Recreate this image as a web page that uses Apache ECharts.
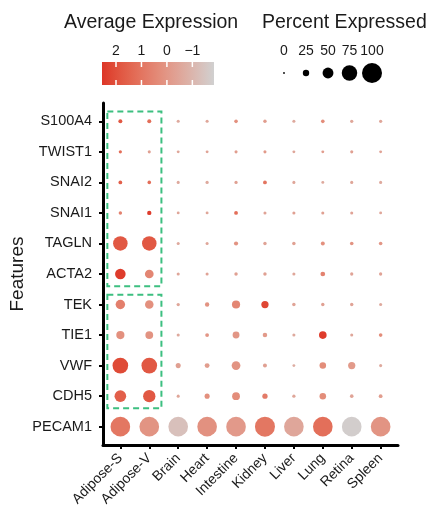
<!DOCTYPE html>
<html>
<head>
<meta charset="utf-8">
<script src="https://cdn.jsdelivr.net/npm/echarts@6/dist/echarts.min.js"></script>
<style>
  html, body { margin: 0; background: #fff; }
  #chart { width: 430px; height: 515px; }
</style>
</head>
<body>
<div id="chart"></div>
<script>
// 数据
const genes = ['S100A4', 'TWIST1', 'SNAI2', 'SNAI1', 'TAGLN', 'ACTA2', 'TEK', 'TIE1', 'VWF', 'CDH5', 'PECAM1'];
const tissues = ['Adipose-S', 'Adipose-V', 'Brain', 'Heart', 'Intestine', 'Kidney', 'Liver', 'Lung', 'Retina', 'Spleen'];

// percent expressed, one row per gene
const pctRows = [
  [12, 12, 7, 7, 10, 9, 7, 10, 8, 8],
  [8, 7, 6, 6, 7, 7, 6, 6, 7, 6],
  [11, 10, 7, 8, 8, 11, 7, 6, 7, 7],
  [9, 14, 6, 6, 11, 7, 7, 7, 7, 6],
  [70, 70, 7, 7, 13, 9, 9, 12, 10, 10],
  [48, 38, 7, 7, 9, 9, 7, 16, 8, 8],
  [42, 37, 8, 14, 35, 30, 9, 9, 9, 7],
  [35, 33, 7, 11, 28, 15, 7, 32, 7, 10],
  [76, 76, 18, 17, 38, 12, 6, 26, 30, 7],
  [54, 58, 7, 18, 33, 19, 8, 26, 10, 11],
  [98, 98, 98, 98, 98, 100, 98, 98, 98, 98]
];

// average expression (scaled)
const exprRows = [
  [1.8, 1.2, -0.6, -0.5, 0.2, -0.2, -0.6, 0.3, -0.5, -0.5],
  [1.2, -0.3, -0.5, -0.4, -0.2, -0.1, -0.5, -0.2, -0.3, -0.4],
  [1.6, 1.2, -0.6, -0.6, -0.3, 1.0, -0.5, -0.6, -0.5, -0.6],
  [0.6, 2.4, -0.5, -0.5, 1.2, -0.4, -0.3, -0.3, -0.4, -0.5],
  [1.8, 1.8, -0.6, -0.5, 0.1, -0.4, -0.3, 0.2, 0.1, 0.0],
  [2.4, 0.5, -0.5, -0.4, -0.3, -0.3, -0.5, 0.6, -0.4, -0.4],
  [0.7, 0.2, -0.5, 0.1, 0.5, 2.2, -0.4, -0.3, -0.4, -0.6],
  [0.2, 0.1, -0.6, 0.0, 0.0, -0.1, -0.6, 2.4, -0.5, 0.3],
  [2.1, 1.8, -0.3, -0.2, 0.1, -0.3, -0.7, 0.3, -0.1, -0.6],
  [1.6, 1.8, -0.5, 0.2, 0.3, 0.8, -0.5, 0.3, -0.4, -0.2],
  [0.94, 0.09, -1.34, 0.16, -0.09, 0.94, -0.52, 1.16, -1.75, 0.09]
];

// legend ticks
const exprTicks = [2, 1, 0, -1];
const pctTicks = [0, 25, 50, 75, 100];
const exprMin = -1.85, exprMax = 2.55;

// 框选的区域 (tissue index range, gene index range)
const boxes = [
  { cols: [0, 1], rows: [0, 5] },
  { cols: [0, 1], rows: [6, 9] }
];

const lowColor = '#d0d0d0';
const highColor = '#dd3527';
const font = 'Liberation Sans, Arial, sans-serif';

// Lab 插值，模仿 ggplot 的渐变
function hexToRgb(h) {
  const n = parseInt(h.slice(1), 16);
  return [(n >> 16) & 255, (n >> 8) & 255, n & 255];
}
function toLin(c) { c /= 255; return c <= 0.04045 ? c / 12.92 : Math.pow((c + 0.055) / 1.055, 2.4); }
function fromLin(c) {
  c = c <= 0.0031308 ? 12.92 * c : 1.055 * Math.pow(c, 1 / 2.4) - 0.055;
  return Math.max(0, Math.min(255, Math.round(c * 255)));
}
function rgbToLab(rgb) {
  const [r, g, b] = rgb.map(toLin);
  const x = (0.4124 * r + 0.3576 * g + 0.1805 * b) / 0.95047;
  const y = 0.2126 * r + 0.7152 * g + 0.0722 * b;
  const z = (0.0193 * r + 0.1192 * g + 0.9505 * b) / 1.08883;
  const f = t => t > 0.008856 ? Math.cbrt(t) : 7.787 * t + 16 / 116;
  const fx = f(x), fy = f(y), fz = f(z);
  return [116 * fy - 16, 500 * (fx - fy), 200 * (fy - fz)];
}
function labToHex(lab) {
  const fy = (lab[0] + 16) / 116, fx = fy + lab[1] / 500, fz = fy - lab[2] / 200;
  const g = t => t * t * t > 0.008856 ? t * t * t : (t - 16 / 116) / 7.787;
  const x = g(fx) * 0.95047, y = g(fy), z = g(fz) * 1.08883;
  const r = 3.2406 * x - 1.5372 * y - 0.4986 * z;
  const gg = -0.9689 * x + 1.8758 * y + 0.0415 * z;
  const b = 0.0557 * x - 0.2040 * y + 1.0570 * z;
  return '#' + [r, gg, b].map(fromLin).map(v => v.toString(16).padStart(2, '0')).join('');
}
const labLo = rgbToLab(hexToRgb(lowColor));
const labHi = rgbToLab(hexToRgb(highColor));
const nStops = 12;
const gradColors = [];
for (let i = 0; i <= nStops; i++) {
  const t = i / nStops;
  gradColors.push(labToHex(labLo.map((v, k) => v + (labHi[k] - v) * t)));
}

const sizeOf = p => 1.8 + p * 0.182;

// 散点数据
const points = [];
genes.forEach((g, i) => {
  tissues.forEach((t, j) => {
    points.push([j + 1, genes.length - i, exprRows[i][j], pctRows[i][j]]);
  });
});

const boxAreas = boxes.map(b => [
  { coord: [b.cols[0] + 1 - 0.45, genes.length - b.rows[0] + 0.32] },
  { coord: [b.cols[1] + 1 + 0.42, genes.length - b.rows[1] - 0.4] }
]);

// 图例位置
const barLeft = 102, barTop = 62, barW = 112, barH = 23;
const exprX = v => barLeft + (exprMax - v) / (exprMax - exprMin) * barW;
const pctX = [284, 306, 328, 349.5, 372];

const graphics = [
  { type: 'text', left: 64, top: 13, style: { text: 'Average Expression', font: '19.5px ' + font, fill: '#1a1a1a' } },
  { type: 'text', left: 262, top: 13, style: { text: 'Percent Expressed', font: '19.5px ' + font, fill: '#1a1a1a' } },
  {
    type: 'rect', shape: { x: barLeft, y: barTop, width: barW, height: barH },
    style: {
      fill: new echarts.graphic.LinearGradient(0, 0, 1, 0,
        gradColors.slice().reverse().map((c, i) => ({ offset: i / nStops, color: c })))
    }
  }
];
exprTicks.forEach(v => {
  const x = exprX(v);
  graphics.push({ type: 'line', shape: { x1: x, y1: barTop, x2: x, y2: barTop + 5 }, style: { stroke: '#fff', lineWidth: 1.5 } });
  graphics.push({ type: 'line', shape: { x1: x, y1: barTop + barH - 5, x2: x, y2: barTop + barH }, style: { stroke: '#fff', lineWidth: 1.5 } });
  graphics.push({
    type: 'text', x: x, y: 51,
    style: { text: v < 0 ? '\u2212' + Math.abs(v) : String(v), font: '14px ' + font, fill: '#1a1a1a', align: 'center', verticalAlign: 'middle' }
  });
});
pctTicks.forEach((p, i) => {
  graphics.push({ type: 'circle', shape: { cx: pctX[i], cy: 73, r: sizeOf(p) / 2 }, style: { fill: '#000' } });
  graphics.push({
    type: 'text', x: pctX[i], y: 51,
    style: { text: String(p), font: '14px ' + font, fill: '#1a1a1a', align: 'center', verticalAlign: 'middle' }
  });
});

const chart = echarts.init(document.getElementById('chart'));
const option = {
  animation: false,
  grid: { left: 103, right: 32, top: 103, bottom: 70, outerBoundsMode: 'none', containLabel: false },
  xAxis: {
    type: 'value', min: 0.4, max: 10.6,
    splitLine: { show: false },
    axisLine: { show: true, onZero: false, lineStyle: { color: '#000', width: 3 } },
    axisTick: { show: true, length: 4, lineStyle: { color: '#000', width: 2 }, customValues: tissues.map((t, i) => i + 1) },
    axisLabel: {
      customValues: tissues.map((t, i) => i + 1),
      formatter: v => tissues[Math.round(v) - 1],
      rotate: 45, fontSize: 14, color: '#1a1a1a', fontFamily: font, margin: 11
    }
  },
  yAxis: {
    type: 'value', min: 0.4, max: genes.length + 0.6,
    name: 'Features', nameLocation: 'middle', nameGap: 76, nameRotate: 90, nameMoveOverlap: false,
    nameTextStyle: { fontSize: 19, color: '#1a1a1a', fontFamily: font },
    splitLine: { show: false },
    axisLine: { show: true, onZero: false, lineStyle: { color: '#000', width: 3 } },
    axisTick: { show: true, length: 4, lineStyle: { color: '#000', width: 2 }, customValues: genes.map((g, i) => i + 1) },
    axisLabel: {
      customValues: genes.map((g, i) => i + 1),
      formatter: v => genes[genes.length - Math.round(v)],
      fontSize: 14.5, color: '#1a1a1a', fontFamily: font, margin: 11
    }
  },
  visualMap: {
    show: false, seriesIndex: 0, dimension: 2,
    min: exprMin, max: exprMax,
    inRange: { color: gradColors }
  },
  series: [{
    type: 'scatter',
    data: points,
    symbolSize: v => sizeOf(v[3]),
    itemStyle: { opacity: 1 },
    markArea: {
      silent: true,
      itemStyle: { color: 'rgba(0,0,0,0)', borderColor: '#3dbf80', borderWidth: 2, borderType: [6, 4], borderRadius: 3 },
      label: { show: false },
      data: boxAreas
    }
  }],
  graphic: graphics
};
chart.setOption(option);
</script>
</body>
</html>
